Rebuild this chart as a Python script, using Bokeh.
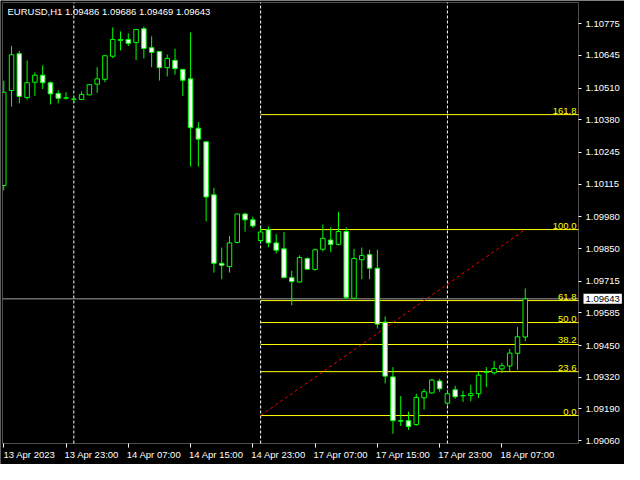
import pandas as pd
from bokeh.plotting import figure
from bokeh.models import (ColumnDataSource, FixedTicker, Label, PrintfTickFormatter,
                          LinearAxis, Range1d, BoxAnnotation)
from bokeh.embed import file_html
from bokeh.resources import INLINE

# ---------------- data ----------------
symbol = "EURUSD,H1"
session1 = pd.date_range("2023-04-13 15:00", "2023-04-14 23:00", freq="h")
session2 = pd.date_range("2023-04-17 00:00", "2023-04-18 10:00", freq="h")
times = list(session1) + list(session2)

opens = [1.10109, 1.10500, 1.10651, 1.10471, 1.10534, 1.10563, 1.10532, 1.10488, 1.10468, 1.10464,
         1.10463, 1.10482, 1.10526, 1.10546, 1.10641, 1.10706, 1.10710, 1.10697, 1.10754, 1.10676,
         1.10660, 1.10594, 1.10624, 1.10587, 1.10548, 1.10345, 1.10289, 1.10071, 1.09789, 1.09776,
         1.09875, 1.09992, 1.09968, 1.09883, 1.09928, 1.09873, 1.09849, 1.09730, 1.09712, 1.09809,
         1.09764, 1.09847, 1.09885, 1.09867, 1.09920, 1.09645, 1.09804, 1.09825, 1.09769, 1.09547,
         1.09322, 1.09142, 1.09142, 1.09126, 1.09236, 1.09256, 1.09305, 1.09214, 1.09269, 1.09245,
         1.09245, 1.09253, 1.09342, 1.09339, 1.09355, 1.09367, 1.09419, 1.09486]
highs = [1.10540, 1.10683, 1.10663, 1.10624, 1.10575, 1.10604, 1.10537, 1.10501, 1.10493, 1.10477,
         1.10496, 1.10525, 1.10596, 1.10644, 1.10759, 1.10743, 1.10735, 1.10754, 1.10763, 1.10723,
         1.10663, 1.10648, 1.10672, 1.10588, 1.10739, 1.10370, 1.10290, 1.10100, 1.09854, 1.09902,
         1.09993, 1.09997, 1.09981, 1.09935, 1.09941, 1.09910, 1.09918, 1.09759, 1.09822, 1.09814,
         1.09850, 1.09949, 1.09937, 1.10001, 1.09937, 1.09849, 1.09854, 1.09845, 1.09845, 1.09571,
         1.09362, 1.09243, 1.09179, 1.09253, 1.09273, 1.09314, 1.09314, 1.09269, 1.09285, 1.09265,
         1.09289, 1.09342, 1.09362, 1.09388, 1.09380, 1.09437, 1.09527, 1.09686]
lows = [1.10089, 1.10434, 1.10447, 1.10463, 1.10478, 1.10506, 1.10443, 1.10447, 1.10463, 1.10449,
        1.10462, 1.10481, 1.10490, 1.10534, 1.10633, 1.10665, 1.10683, 1.10625, 1.10632, 1.10596,
        1.10541, 1.10558, 1.10565, 1.10477, 1.10187, 1.10187, 1.09962, 1.09751, 1.09724, 1.09751,
        1.09871, 1.09919, 1.09935, 1.09876, 1.09855, 1.09830, 1.09729, 1.09616, 1.09711, 1.09764,
        1.09759, 1.09838, 1.09835, 1.09863, 1.09642, 1.09644, 1.09724, 1.09724, 1.09521, 1.09295,
        1.09088, 1.09120, 1.09104, 1.09121, 1.09187, 1.09252, 1.09261, 1.09203, 1.09232, 1.09219,
        1.09222, 1.09236, 1.09280, 1.09331, 1.09339, 1.09346, 1.09351, 1.09469]
closes = [1.10493, 1.10647, 1.10476, 1.10532, 1.10563, 1.10532, 1.10486, 1.10468, 1.10470, 1.10465,
          1.10484, 1.10524, 1.10548, 1.10643, 1.10710, 1.10710, 1.10694, 1.10751, 1.10673, 1.10657,
          1.10594, 1.10632, 1.10590, 1.10542, 1.10347, 1.10300, 1.10062, 1.09789, 1.09781, 1.09873,
          1.09992, 1.09968, 1.09943, 1.09918, 1.09873, 1.09843, 1.09730, 1.09714, 1.09813, 1.09765,
          1.09845, 1.09892, 1.09867, 1.09920, 1.09649, 1.09809, 1.09821, 1.09769, 1.09539, 1.09325,
          1.09142, 1.09140, 1.09118, 1.09237, 1.09261, 1.09309, 1.09273, 1.09253, 1.09240, 1.09244,
          1.09253, 1.09329, 1.09341, 1.09357, 1.09368, 1.09420, 1.09487, 1.09643]

price_ticks = [1.09060, 1.09190, 1.09320, 1.09450, 1.09585, 1.09715, 1.09850,
               1.09980, 1.10115, 1.10245, 1.10380, 1.10510, 1.10645, 1.10775]
x_tick_bars = [0, 8, 16, 24, 32, 40, 48, 56, 64]
x_tick_labels = ["13 Apr 2023", "13 Apr 23:00", "14 Apr 07:00", "14 Apr 15:00", "14 Apr 23:00",
                 "17 Apr 07:00", "17 Apr 15:00", "17 Apr 23:00", "18 Apr 07:00"]

fib_start_time = pd.Timestamp("2023-04-17 00:00")
fib_end_time = pd.Timestamp("2023-04-18 10:00")
fib_low = 1.09163
fib_high = 1.09928
fib_levels = [0.0, 23.6, 38.2, 50.0, 61.8, 100.0, 161.8]

# ---------------- layout ----------------
FIG_W, FIG_H = 624, 464
CH_L, CH_R, CH_T, CH_B = 2, 578, 2, 443       # chart box inside the figure (px)
x_start, x_end = -0.1625, 73.84                 # visible bars in chart box
y_low, y_high = 1.09048, 1.10862                # visible prices in chart box
ppb = (CH_R - CH_L) / (x_end - x_start)
ppp = (CH_B - CH_T) / (y_high - y_low)
fig_x = (x_start - CH_L / ppb, x_end + (FIG_W - CH_R) / ppb)
fig_y = (y_low - (FIG_H - CH_B) / ppp, y_high + CH_T / ppp)
label_shift = 3.3   # x-axis labels start at their tick (MT4 style)

GREEN = "#00ff00"
YELLOW = "#ffff00"
FONT = "Liberation Sans"
FS = "9.5px"

p = figure(width=FIG_W, height=FIG_H, x_range=fig_x, y_range=fig_y,
           output_backend="svg", toolbar_location=None, y_axis_location="right",
           min_border_left=0, min_border_top=0, min_border_right=0, min_border_bottom=0,
           background_fill_color="black", border_fill_color="black")
p.outline_line_color = None
p.grid.visible = False

# price axis (at the chart's right edge)
ya = p.yaxis[0]
ya.fixed_location = x_end
ya.ticker = FixedTicker(ticks=price_ticks)
ya.formatter = PrintfTickFormatter(format="%.5f")
ya.axis_line_color = None
ya.major_tick_line_color = "white"
ya.minor_tick_line_color = None
ya.major_tick_in = 0
ya.major_tick_out = 3
ya.major_label_standoff = 4
ya.major_label_text_color = "white"
ya.major_label_text_font = FONT
ya.major_label_text_font_size = FS

# time axis: ticks
xa = p.xaxis[0]
xa.fixed_location = y_low
xa.ticker = FixedTicker(ticks=x_tick_bars)
xa.major_label_overrides = {b: "" for b in x_tick_bars}
xa.axis_line_color = None
xa.major_tick_line_color = "white"
xa.minor_tick_line_color = None
xa.major_tick_in = 0
xa.major_tick_out = 4
xa.major_label_text_font_size = FS

# time axis: left-aligned labels
p.extra_x_ranges = {"lab": Range1d(fig_x[0] - label_shift, fig_x[1] - label_shift)}
la = LinearAxis(x_range_name="lab", fixed_location=y_low,
                ticker=FixedTicker(ticks=x_tick_bars),
                major_label_overrides=dict(zip(x_tick_bars, x_tick_labels)),
                axis_line_color=None, major_tick_line_color=None, minor_tick_line_color=None,
                major_tick_in=0, major_tick_out=0, major_label_standoff=5,
                major_label_text_color="white", major_label_text_font=FONT,
                major_label_text_font_size=FS)
p.add_layout(la, "below")

bars = list(range(len(times)))

# day separators
seps = [i for i in bars[1:] if times[i].date() != times[i - 1].date()]
p.segment(x0=seps, y0=[y_low] * len(seps), x1=seps, y1=[y_high] * len(seps),
          line_color="white", line_dash="3 2", line_width=1)

# bid line
p.segment(x0=[x_start], y0=[closes[-1]], x1=[x_end], y1=[closes[-1]],
          line_color="#a0a0a0", line_width=1)

# fibonacci
fs_bar = times.index(fib_start_time)
fe_bar = times.index(fib_end_time)
level_prices = [fib_low + (fib_high - fib_low) * lv / 100.0 for lv in fib_levels]
n = len(fib_levels)
p.segment(x0=[fs_bar] * n, y0=level_prices, x1=[x_end] * n, y1=level_prices,
          line_color=YELLOW, line_width=1)
p.line([fs_bar, fe_bar], [fib_low, fib_high], line_color="#ff0000", line_dash="3 3",
       line_width=1)

# candles
tops = [max(o, c) for o, c in zip(opens, closes)]
bottoms = [min(o, c) for o, c in zip(opens, closes)]
fills = ["black" if c > o else "white" for o, c in zip(opens, closes)]
src = ColumnDataSource(dict(x=bars, open=opens, high=highs, low=lows, close=closes,
                            top=tops, bottom=bottoms, fill=fills))
p.segment(x0="x", y0="low", x1="x", y1="high", source=src, line_color=GREEN, line_width=1)
p.vbar(x="x", width=0.58, top="top", bottom="bottom", fill_color="fill",
       line_color=GREEN, line_width=1, source=src)

# mask left of the chart box and draw the chart frame
p.add_layout(BoxAnnotation(right=x_start, fill_color="black", fill_alpha=1.0,
                           line_color=None))
p.add_layout(BoxAnnotation(left=x_start, right=x_end, bottom=y_low, top=y_high,
                           fill_color=None, line_color="white", line_width=1))

# fib labels
for lv, pr in zip(fib_levels, level_prices):
    p.add_layout(Label(x=x_end, y=pr, x_offset=-2, y_offset=1, text=f"{lv:.1f}",
                       text_align="right", text_baseline="bottom", text_color=YELLOW,
                       text_font=FONT, text_font_size=FS))

# current price box
p.add_layout(Label(x=x_end, y=closes[-1], x_offset=5, text=f"{closes[-1]:.5f}",
                   text_align="left", text_baseline="middle", text_color="black",
                   background_fill_color="white", padding=2,
                   text_font=FONT, text_font_size=FS))

# title
title_text = f"{symbol}  {opens[-1]:.5f} {highs[-1]:.5f} {lows[-1]:.5f} {closes[-1]:.5f}"
p.add_layout(Label(x=CH_L + 5, x_units="screen", y=y_high, y_offset=-3, text=title_text,
                   text_align="left", text_baseline="top", text_color="white",
                   text_font=FONT, text_font_size=FS))

open("out.html", "w").write(file_html(p, INLINE))
